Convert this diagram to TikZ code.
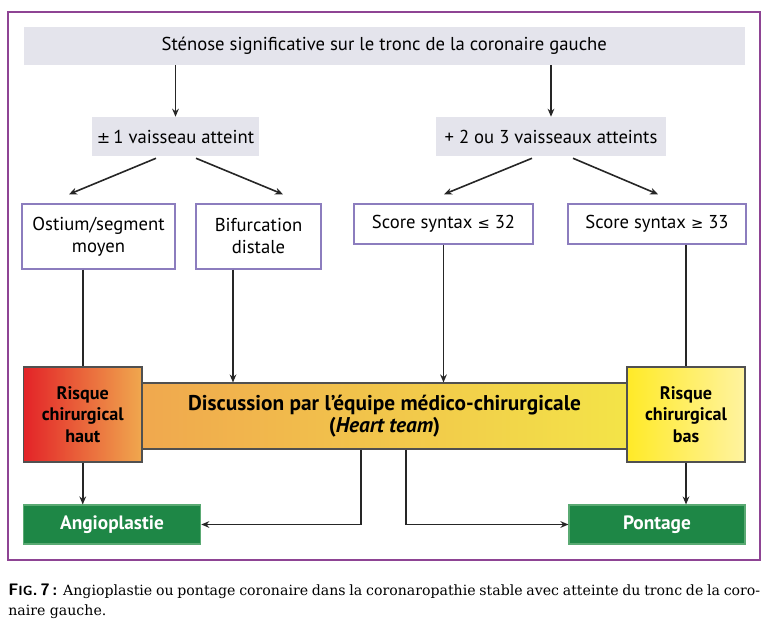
\documentclass[tikz,border=0pt]{standalone}
\usepackage{fontspec}
\setmainfont{PT Sans}
\newfontfamily\legendfont{DejaVu Serif}
\newfontfamily\symbfont{DejaVu Sans}
\usetikzlibrary{calc}
\usetikzlibrary{arrows.meta}
% colours
\definecolor{cadre}{RGB}{142,68,148}
\definecolor{boxgrey}{RGB}{228,228,236}
\definecolor{boxline}{RGB}{140,125,190}
\definecolor{bandline}{RGB}{80,80,80}
\definecolor{okgreen}{RGB}{30,135,70}
\definecolor{okline}{RGB}{90,170,115}
\definecolor{riskred}{RGB}{227,35,40}
\definecolor{riskorange}{RGB}{240,168,78}
\definecolor{bandyellow}{RGB}{243,228,72}
\definecolor{lowyellow}{RGB}{255,234,40}
\definecolor{paleyellow}{RGB}{255,243,160}
\newlength\px
\setlength\px{0.75pt}
\tikzset{
	% Boxes of the flow chart: grey, white, gradient and green
	grey box/.style={rectangle,fill=boxgrey,inner sep=0pt,align=center},
	white box/.style={rectangle,draw=boxline,line width=1.1pt,fill=white,inner sep=0pt,align=center},
	risk box/.style={rectangle,draw=bandline,line width=0.8pt,inner sep=0pt,align=center,font=\bfseries\fontsize{13.6}{16.2}\selectfont},
	result box/.style={rectangle,draw=okline,line width=0.8pt,fill=okgreen,text=white,inner sep=0pt,font=\bfseries\fontsize{14.5}{16}\selectfont},
	link/.style={line width=1.2pt,draw=black!85},
	flow arrow/.style={link,-{Stealth[length=6pt,width=5pt]}}
}

\begin{document}
\begin{tikzpicture}[x=0.75pt,y=-0.75pt,font=\fontsize{14}{16.5}\selectfont]
	\useasboundingbox (0,0) rectangle (768,631);
	% outer frame
	\draw[cadre,line width=1.5pt] (8,12) rectangle (760,560);
	
	% first two levels
	\node(top)[grey box,minimum width=721.5\px,minimum height=38\px] at (384.25,46)
		{Sténose significative sur le tronc de la coronaire gauche};
	\node(v1)[grey box,minimum width=167\px,minimum height=39\px] at (175.5,136.5)
		{{\symbfont\fontsize{12}{12}\selectfont ±}\,1 vaisseau atteint};
	\node(v23)[grey box,minimum width=230\px,minimum height=39\px] at (551,136.5)
		{+ 2 ou 3 vaisseaux atteints};
	
	% third level
	\node(ostium)[white box,minimum width=153\px,minimum height=65\px] at (98.5,236.5)
		{Ostium/segment\\moyen};
	\node(bifurc)[white box,minimum width=125\px,minimum height=65\px] at (258.5,236.5)
		{Bifurcation\\distale};
	\node(sc32)[white box,minimum width=179\px,minimum height=40\px] at (443.5,224)
		{Score syntax {\symbfont\fontsize{11}{12}\selectfont ≤} 32};
	\node(sc33)[white box,minimum width=178\px,minimum height=40\px] at (657,224)
		{Score syntax {\symbfont\fontsize{11}{12}\selectfont ≥} 33};
	
	% risk and discussion
	\node(disc)[risk box,left color=riskorange,right color=bandyellow,minimum width=485\px,minimum height=66\px,
		font=\bfseries\fontsize{16}{17}\selectfont] at (384.5,416)
		{Discussion par l’équipe médico-chirurgicale\\(\textit{Heart team})};
	\node(rhaut)[risk box,left color=riskred,right color=riskorange,minimum width=118.5\px,minimum height=95\px] at (82.75,414.5)
		{Risque\\chirurgical\\haut};
	\node(rbas)[risk box,left color=lowyellow,right color=paleyellow,minimum width=118\px,minimum height=95\px] at (686,414.5)
		{Risque\\chirurgical\\bas};
	
	% outcomes
	\node(angio)[result box,minimum width=177.5\px,minimum height=39\px] at (112,524.5){Angioplastie};
	\node(pont)[result box,minimum width=176\px,minimum height=39\px] at (657,524.5){Pontage};
	
	% connectors
	\draw[flow arrow] (top.south -| v1.north) -- (v1.north);
	\draw[flow arrow] (top.south -| v23.north) -- (v23.north);
	\draw[flow arrow] ($(v1.south)+(-19.5,2)$) -- ($(ostium.north)+(-29.5,-9)$);
	\draw[flow arrow] ($(v1.south)+(20.5,2)$) -- ($(bifurc.north)+(24.5,-9)$);
	\draw[flow arrow] ($(v23.south)+(-19,2)$) -- ($(sc32.north)+(0.5,-9)$);
	\draw[flow arrow] ($(v23.south)+(22,2)$) -- ($(sc33.north)+(1,-9)$);
	\draw[link] (ostium.south -| rhaut.north) -- (rhaut.north);
	\draw[flow arrow] ($(bifurc.south)+(-25.5,0)$) coordinate(bs) -- (bs |- disc.north);
	\draw[flow arrow] (sc32.south) -- (sc32.south |- disc.north);
	\draw[link] (sc33.south -| rbas.north) -- (rbas.north);
	\draw[flow arrow] (rhaut.south) -- (rhaut.south |- angio.north);
	\draw[flow arrow] (rbas.south) -- (rbas.south |- pont.north);
	\draw[flow arrow] ($(disc.south)+(-23.5,0)$) |- (angio.east);
	\draw[flow arrow] ($(disc.south)+(21.5,0)$) |- (pont.west);
	
	% legend
	\node(legend)[anchor=north west,inner sep=0pt,align=left,font=\legendfont\fontsize{10.6}{15}\selectfont] at (8,584)
		{\makebox[752\px][s]{{\sffamily\bfseries\fontsize{12.5}{14}\selectfont F{\fontsize{10}{10}\selectfont IG}.\,7\,:} Angioplastie ou pontage coronaire dans la coronaropathie stable avec atteinte du tronc de la coro-}\\naire gauche.};
\end{tikzpicture}
\end{document}
